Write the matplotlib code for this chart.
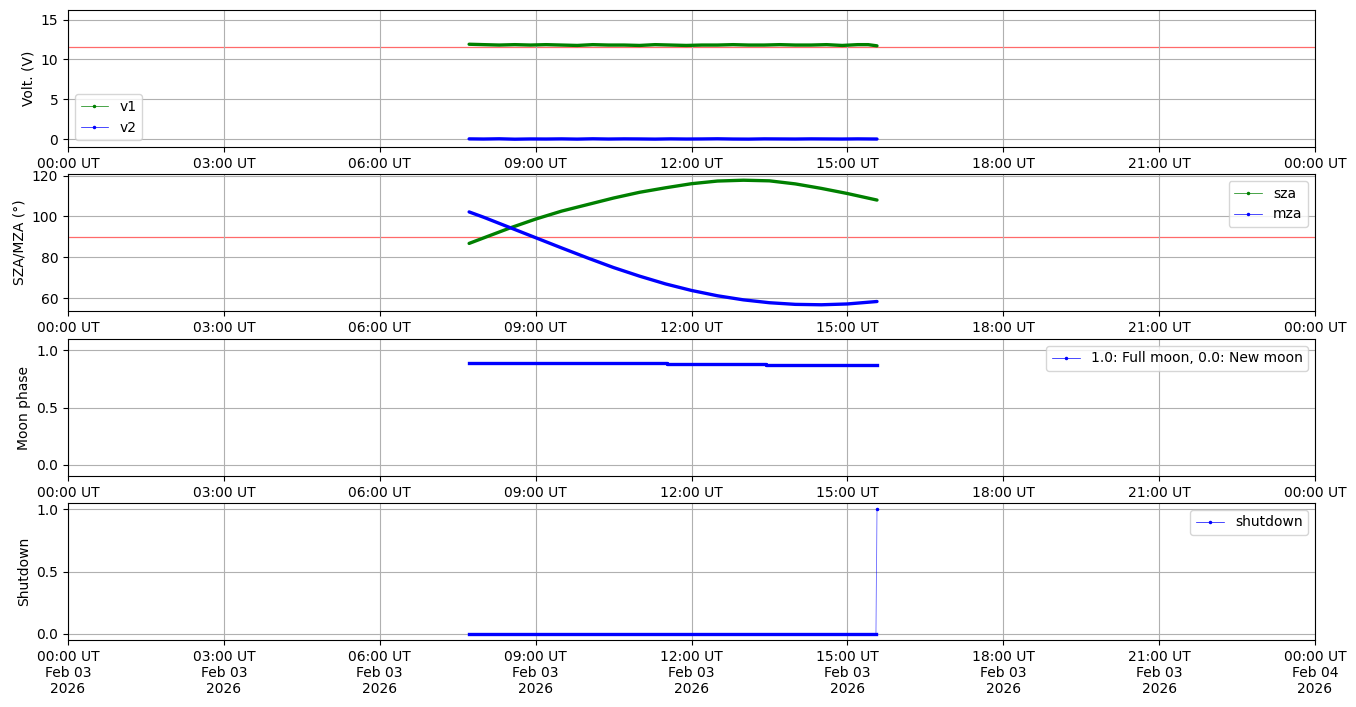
import numpy as np
import matplotlib
matplotlib.use("Agg")
import matplotlib.pyplot as plt
import matplotlib.dates as mdates
from matplotlib.lines import Line2D
from datetime import datetime, timedelta

# ---- data (hours UT on 2026-02-03) ----
day0 = datetime(2026, 2, 3)

volt_hours = [7.72, 8.0, 8.3, 8.6, 8.9, 9.2, 9.5, 9.8, 10.1, 10.4, 10.7, 11.0, 11.3,
              11.6, 11.9, 12.2, 12.5, 12.8, 13.1, 13.4, 13.7, 14.0, 14.3, 14.6, 14.9,
              15.2, 15.4, 15.57]
v1 = [11.9, 11.85, 11.8, 11.85, 11.8, 11.85, 11.8, 11.75, 11.85, 11.8, 11.8, 11.75, 11.85,
      11.8, 11.75, 11.8, 11.8, 11.85, 11.8, 11.8, 11.85, 11.8, 11.8, 11.85, 11.75,
      11.85, 11.85, 11.7]
v2 = [0.02, 0.0, 0.03, -0.02, 0.01, 0.0, 0.02, -0.01, 0.03, 0.0, 0.02, 0.01, -0.01,
      0.02, 0.0, 0.01, 0.03, 0.0, -0.01, 0.02, 0.01, 0.0, 0.02, 0.01, 0.0,
      0.02, 0.01, 0.0]
volt_ref = 11.6

za_hours = [7.72, 8.0, 8.5, 9.0, 9.5, 10.0, 10.5, 11.0, 11.5, 12.0, 12.5, 13.0,
            13.5, 14.0, 14.5, 15.0, 15.57]
sza = [86.8, 89.5, 94.3, 98.7, 102.6, 105.8, 109.0, 111.8, 114.0, 116.0, 117.3, 117.7,
       117.4, 115.9, 113.7, 111.2, 108.0]
mza = [102.2, 99.6, 94.6, 89.6, 84.6, 79.7, 75.0, 70.8, 67.0, 63.8, 61.2, 59.2,
       57.8, 57.0, 56.8, 57.2, 58.4]
za_ref = 90

moon_hours = [7.72, 11.52, 13.43, 15.57]
moon_phase = [0.889, 0.881, 0.876, 0.876]

shut_hours = [7.72, 9.0, 10.0, 11.0, 12.0, 13.0, 14.0, 15.0, 15.55, 15.57]
shutdown = [0, 0, 0, 0, 0, 0, 0, 0, 0, 1]


def to_dt(hours):
    return [day0 + timedelta(hours=h) for h in hours]


W, H = 1356, 707
fig = plt.figure(figsize=(W / 100, H / 100), dpi=100)
left = 68 / W
width = (1315 - 68) / W
ah = 137 / H
panels_bottom_px = [147, 311, 476, 640]
axes = [fig.add_axes([left, 1 - b / H, width, ah]) for b in panels_bottom_px]

thick = dict(lw=2.4, solid_capstyle='round')
thin = dict(lw=0.5, marker='.', ms=3)
ref_style = dict(color='#ff6a6a', lw=0.9, zorder=1.5)

# panel 1
ax = axes[0]
t = to_dt(volt_hours)
ax.axhline(volt_ref, **ref_style)
ax.plot(t, v1, color='green', **thick)
ax.plot(t, v2, color='blue', **thick)
ax.set_ylim(-1, 16.2)
ax.set_ylabel('Volt. (V)')
ax.legend(handles=[Line2D([], [], color='green', **thin), Line2D([], [], color='blue', **thin)],
          labels=['v1', 'v2'], loc='lower left')

# panel 2
ax = axes[1]
t = to_dt(za_hours)
ax.axhline(za_ref, **ref_style)
ax.plot(t, sza, color='green', **thick)
ax.plot(t, mza, color='blue', **thick)
ax.set_ylabel('SZA/MZA (°)')
ax.set_yticks([60, 80, 100, 120])
ax.legend(handles=[Line2D([], [], color='green', **thin), Line2D([], [], color='blue', **thin)],
          labels=['sza', 'mza'], loc='upper right')

# panel 3
ax = axes[2]
ax.plot(to_dt(moon_hours), moon_phase, color='blue', drawstyle='steps-post', lw=2.4)
ax.set_ylim(-0.1, 1.1)
ax.set_yticks([0.0, 0.5, 1.0])
ax.set_ylabel('Moon phase')
ax.legend(handles=[Line2D([], [], color='blue', **thin)],
          labels=['1.0: Full moon, 0.0: New moon'], loc='upper right')

# panel 4
ax = axes[3]
t = to_dt(shut_hours)
sd = np.array(shutdown, dtype=float)
ax.plot(t, sd, color='blue', lw=0.6, alpha=0.6)
ax.plot(t, np.where(sd == 0, sd, np.nan), color='blue', lw=2.4)
ax.plot(t, np.where(sd == 1, sd, np.nan), color='blue', marker='.', ms=3, lw=0)
ax.set_yticks([0.0, 0.5, 1.0])
ax.set_ylabel('Shutdown')
ax.legend(handles=[Line2D([], [], color='blue', **thin)], labels=['shutdown'], loc='upper right')

for i, ax in enumerate(axes):
    ax.set_xlim(day0, day0 + timedelta(days=1))
    ax.xaxis.set_major_locator(mdates.HourLocator(byhour=range(0, 24, 3)))
    if i == 3:
        ax.xaxis.set_major_formatter(mdates.DateFormatter('%H:%M UT\n%b %d\n%Y'))
    else:
        ax.xaxis.set_major_formatter(mdates.DateFormatter('%H:%M UT'))
    ax.grid(True)

fig.savefig('out.png', dpi=100)
